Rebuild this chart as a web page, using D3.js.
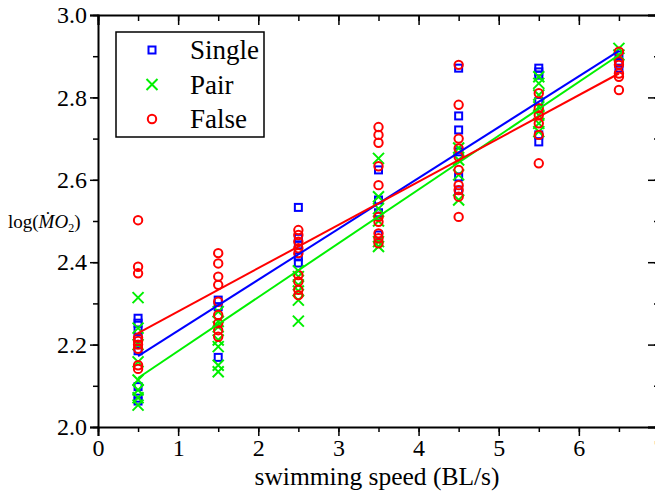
<!DOCTYPE html>
<meta charset="utf-8">
<script src="https://d3js.org/d3.v7.min.js"></script>
<style>
  body { margin: 0; background: #fff; }
  text { font-family: "Liberation Serif", "Times New Roman", serif; }
</style>
<body>
<div id="chart"></div>
<script>
  // ---- data ----
  const groups = ["Single", "Pair", "False"];
  const colors = ["#0000ff", "#00f000", "#ff0000"];

  const singlePts = [
    [0.5, 2.264], [0.5, 2.252], [0.5, 2.235], [0.5, 2.215], [0.5, 2.185], [0.5, 2.098], [0.5, 2.070], [0.5, 2.063],
    [1.5, 2.308], [1.5, 2.292], [1.5, 2.169],
    [2.5, 2.533], [2.5, 2.458], [2.5, 2.442], [2.5, 2.413], [2.5, 2.398],
    [3.5, 2.624], [3.5, 2.551], [3.5, 2.520], [3.5, 2.512], [3.5, 2.466],
    [4.5, 2.871], [4.5, 2.755], [4.5, 2.721], [4.5, 2.668], [4.5, 2.607], [4.5, 2.575],
    [5.5, 2.871], [5.5, 2.862], [5.5, 2.854], [5.5, 2.790], [5.5, 2.709], [5.5, 2.692],
    [6.5, 2.903], [6.5, 2.883], [6.5, 2.871]
  ];
  const pairPts = [
    [0.5, 2.314], [0.5, 2.240], [0.5, 2.200], [0.5, 2.158], [0.5, 2.114], [0.5, 2.090], [0.5, 2.071], [0.5, 2.053],
    [1.5, 2.280], [1.5, 2.256], [1.5, 2.243], [1.5, 2.211], [1.5, 2.195], [1.5, 2.150], [1.5, 2.134],
    [2.5, 2.379], [2.5, 2.365], [2.5, 2.345], [2.5, 2.330], [2.5, 2.308], [2.5, 2.257],
    [3.5, 2.652], [3.5, 2.559], [3.5, 2.530], [3.5, 2.500], [3.5, 2.450], [3.5, 2.438],
    [4.5, 2.677], [4.5, 2.648], [4.5, 2.612], [4.5, 2.551],
    [5.5, 2.850], [5.5, 2.834], [5.5, 2.806], [5.5, 2.777], [5.5, 2.757], [5.5, 2.737], [5.5, 2.717],
    [6.5, 2.919], [6.5, 2.903]
  ];
  const falsePts = [
    [0.5, 2.502], [0.5, 2.389], [0.5, 2.373], [0.5, 2.217], [0.5, 2.209], [0.5, 2.200], [0.5, 2.190], [0.5, 2.150], [0.5, 2.141],
    [1.5, 2.422], [1.5, 2.397], [1.5, 2.365], [1.5, 2.345], [1.5, 2.304], [1.5, 2.272], [1.5, 2.252], [1.5, 2.235], [1.5, 2.219],
    [2.5, 2.478], [2.5, 2.466], [2.5, 2.450], [2.5, 2.434], [2.5, 2.422], [2.5, 2.369], [2.5, 2.353], [2.5, 2.333], [2.5, 2.320],
    [3.5, 2.728], [3.5, 2.709], [3.5, 2.690], [3.5, 2.633], [3.5, 2.587], [3.5, 2.510], [3.5, 2.498], [3.5, 2.470], [3.5, 2.458], [3.5, 2.446],
    [4.5, 2.879], [4.5, 2.782], [4.5, 2.700], [4.5, 2.676], [4.5, 2.656], [4.5, 2.624], [4.5, 2.587], [4.5, 2.575], [4.5, 2.559], [4.5, 2.510],
    [5.5, 2.810], [5.5, 2.774], [5.5, 2.757], [5.5, 2.737], [5.5, 2.709], [5.5, 2.640],
    [6.5, 2.911], [6.5, 2.887], [6.5, 2.879], [6.5, 2.858], [6.5, 2.850], [6.5, 2.818]
  ];

  // fitted lines (end points)
  const singleFit = [[0.5, 2.172], [6.5, 2.913]];
  const pairFit = [[0.5, 2.119], [6.5, 2.903]];
  const falseFit = [[0.5, 2.228], [6.5, 2.858]];

  const xTicks = [0, 1, 2, 3, 4, 5, 6, 7];
  const yTicks = [2.0, 2.2, 2.4, 2.6, 2.8, 3.0];

  // ---- layout ----
  const W = 655, H = 491;
  const mLeft = 98, mTop = 15, plotW = 561, plotH = 412;

  const svg = d3.select("#chart").append("svg")
    .attr("width", W).attr("height", H);

  const x = d3.scaleLinear().domain([0, 7]).range([mLeft, mLeft + plotW]);
  const y = d3.scaleLinear().domain([2.0, 3.0]).range([mTop + plotH, mTop]);

  const minorX = d3.range(0, 7.01, 0.5);
  const minorY = d3.range(2.0, 3.001, 0.1);

  // bottom axis, ticks outward
  svg.append("g")
    .attr("transform", `translate(0,${mTop + plotH})`)
    .call(d3.axisBottom(x).tickValues(minorX).tickSize(5).tickFormat(""))
    .call(g => g.selectAll("path").remove());
  svg.append("g")
    .attr("transform", `translate(0,${mTop + plotH})`)
    .call(d3.axisBottom(x).tickValues(xTicks).tickSize(9).tickPadding(3).tickFormat(d3.format("d")))
    .call(g => g.select("path").attr("stroke-width", 2))
    .call(g => g.selectAll("text").attr("font-size", 24).attr("fill", "#000"));

  // top axis, ticks inward
  svg.append("g")
    .attr("transform", `translate(0,${mTop})`)
    .call(d3.axisBottom(x).tickValues(minorX).tickSize(6).tickFormat(""))
    .call(g => g.selectAll("path").remove());
  svg.append("g")
    .attr("transform", `translate(0,${mTop})`)
    .call(d3.axisBottom(x).tickValues(xTicks).tickSize(10).tickFormat(""))
    .call(g => g.select("path").attr("stroke-width", 2));

  // left axis, ticks outward
  svg.append("g")
    .attr("transform", `translate(${mLeft},0)`)
    .call(d3.axisLeft(y).tickValues(minorY).tickSize(5).tickFormat(""))
    .call(g => g.selectAll("path").remove());
  svg.append("g")
    .attr("transform", `translate(${mLeft},0)`)
    .call(d3.axisLeft(y).tickValues(yTicks).tickSize(8).tickPadding(3).tickFormat(d3.format(".1f")))
    .call(g => g.select("path").attr("stroke-width", 2))
    .call(g => g.selectAll("text").attr("font-size", 24).attr("fill", "#000"));

  // right axis, ticks inward
  svg.append("g")
    .attr("transform", `translate(${mLeft + plotW},0)`)
    .call(d3.axisRight(y).tickValues(minorY).tickSize(-5).tickFormat(""))
    .call(g => g.selectAll("path").remove());
  svg.append("g")
    .attr("transform", `translate(${mLeft + plotW},0)`)
    .call(d3.axisRight(y).tickValues(yTicks).tickSize(-11).tickFormat(""))
    .call(g => g.select("path").attr("stroke-width", 2));

  svg.selectAll(".tick line").attr("stroke-width", 1.5);

  // axis titles
  svg.append("text")
    .attr("x", 377).attr("y", 485)
    .attr("text-anchor", "middle")
    .attr("font-size", 25.5)
    .text("swimming speed (BL/s)");

  const ylab = svg.append("text")
    .attr("x", 8).attr("y", 228)
    .attr("font-size", 19);
  ylab.append("tspan").text("log(");
  ylab.append("tspan").attr("font-style", "italic").text("\u1E40O");
  ylab.append("tspan").attr("font-size", 12).attr("dy", 4).text("2");
  ylab.append("tspan").attr("dy", -4).text(")");

  // ---- markers ----
  const plot = svg.append("g");
  const sq = 7;
  plot.selectAll(".single").data(singlePts).join("rect")
    .attr("class", "single")
    .attr("x", d => x(d[0]) - sq / 2).attr("y", d => y(d[1]) - sq / 2)
    .attr("width", sq).attr("height", sq)
    .attr("fill", "none").attr("stroke", colors[0]).attr("stroke-width", 2);

  const cr = 5.5;
  plot.selectAll(".pair").data(pairPts).join("path")
    .attr("class", "pair")
    .attr("d", d => {
      const cx = x(d[0]), cy = y(d[1]);
      return `M${cx - cr},${cy - cr}L${cx + cr},${cy + cr}M${cx - cr},${cy + cr}L${cx + cr},${cy - cr}`;
    })
    .attr("fill", "none").attr("stroke", colors[1]).attr("stroke-width", 2);

  plot.selectAll(".false").data(falsePts).join("circle")
    .attr("class", "false")
    .attr("cx", d => x(d[0])).attr("cy", d => y(d[1]))
    .attr("r", 4.2)
    .attr("fill", "none").attr("stroke", colors[2]).attr("stroke-width", 2);

  // ---- fitted lines ----
  const line = d3.line().x(d => x(d[0])).y(d => y(d[1]));
  [singleFit, pairFit, falseFit].forEach((f, i) => {
    svg.append("path").datum(f)
      .attr("d", line)
      .attr("fill", "none")
      .attr("stroke", colors[i])
      .attr("stroke-width", 2);
  });

  // ---- legend ----
  const lg = svg.append("g");
  lg.append("rect")
    .attr("x", 116).attr("y", 32).attr("width", 148).attr("height", 105)
    .attr("fill", "#fff").attr("stroke", "#000").attr("stroke-width", 1.5);
  groups.forEach((g, i) => {
    const cy = 50 + i * 34.5, cx = 152;
    if (i === 0) {
      lg.append("rect").attr("x", cx - sq / 2).attr("y", cy - sq / 2)
        .attr("width", sq).attr("height", sq)
        .attr("fill", "none").attr("stroke", colors[0]).attr("stroke-width", 2);
    } else if (i === 1) {
      lg.append("path")
        .attr("d", `M${cx - cr},${cy - cr}L${cx + cr},${cy + cr}M${cx - cr},${cy + cr}L${cx + cr},${cy - cr}`)
        .attr("stroke", colors[1]).attr("stroke-width", 2);
    } else {
      lg.append("circle").attr("cx", cx).attr("cy", cy).attr("r", 4.2)
        .attr("fill", "none").attr("stroke", colors[2]).attr("stroke-width", 2);
    }
    lg.append("text")
      .attr("x", 190).attr("y", cy + 9)
      .attr("font-size", 27)
      .text(g);
  });
</script>
</body>
